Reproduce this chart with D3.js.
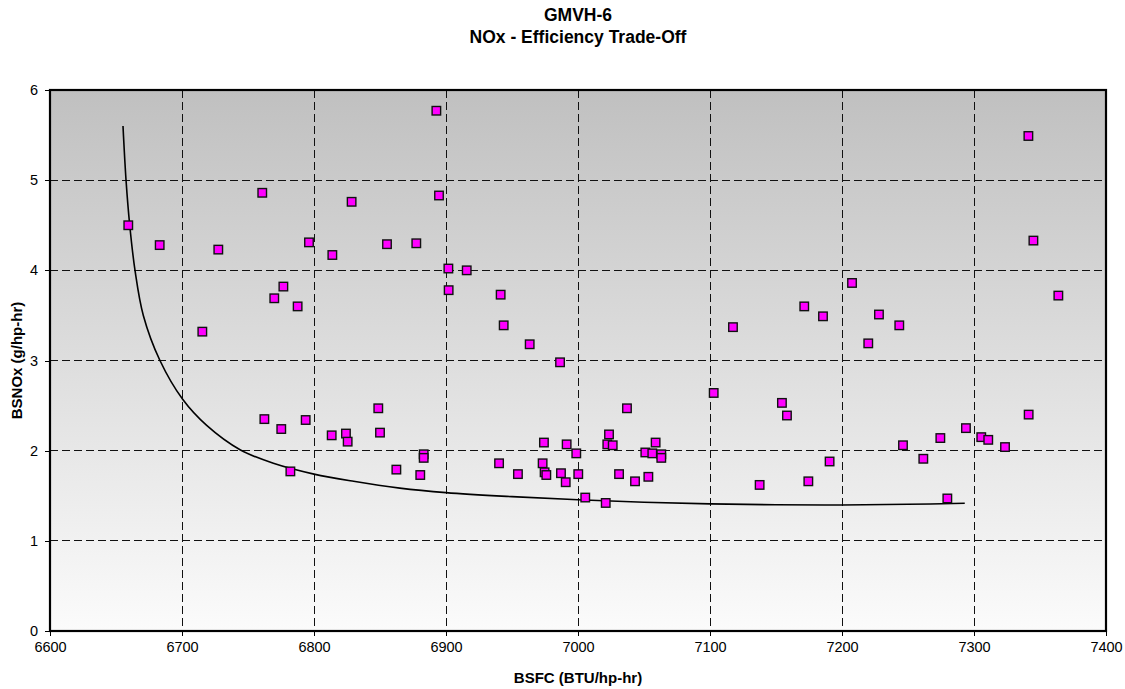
<!DOCTYPE html>
<html lang="en">
<head>
    <meta charset="UTF-8">
    <title>GMVH-6 NOx - Efficiency Trade-Off</title>
    <script src="https://d3js.org/d3.v7.min.js"></script>
    <style>
        body, html {
            margin: 0;
            padding: 0;
            background: #fff;
        }
        text {
            font-family: Arial, "Liberation Sans", sans-serif;
            fill: #000;
        }
        .title {
            font-size: 17.5px;
            font-weight: bold;
        }
        .axis-label {
            font-size: 15px;
            font-weight: bold;
        }
        .grid line {
            stroke: #111;
            stroke-width: 1;
            stroke-dasharray: 8,4;
            shape-rendering: crispEdges;
        }
    </style>
</head>
<body>
    <script>
        // measured points (BSFC, BSNOx)
        const bsfc = [
            6659.3, 6683.1, 6715.4, 6727.5, 6760.8, 6762.4, 6769.9, 6775.2, 6776.8, 6782.1,
            6787.6, 6793.7, 6796.2, 6813.4, 6813.9, 6824.2, 6825.5, 6828.5, 6848.7, 6850.0,
            6855.3, 6862.4, 6877.5, 6880.5, 6883.1, 6883.1, 6892.7, 6894.7, 6901.8, 6902.0,
            6915.7, 6940.2, 6941.4, 6943.7, 6954.5, 6963.4, 6973.2, 6974.2, 6974.7, 6976.0,
            6986.4, 6987.1, 6990.7, 6991.4, 6998.7, 7000.2, 7005.5, 7021.0, 7022.2, 7023.5,
            7026.3, 7031.1, 7037.1, 7043.2, 7051.0, 7053.3, 7056.3, 7058.8, 7063.1, 7063.1,
            7102.8, 7117.4, 7137.6, 7154.5, 7158.3, 7171.4, 7174.5, 7185.6, 7190.6, 7207.6,
            7219.9, 7228.0, 7243.4, 7246.2, 7261.6, 7274.5, 7279.8, 7293.9, 7305.5, 7310.8,
            7323.5, 7341.2, 7341.4, 7345.0, 7363.9
        ];
        const bsnox = [
            4.50, 4.28, 3.32, 4.23, 4.86, 2.35, 3.69, 2.24, 3.82, 1.77,
            3.60, 2.34, 4.31, 2.17, 4.17, 2.19, 2.10, 4.76, 2.47, 2.20,
            4.29, 1.79, 4.30, 1.73, 1.96, 1.92, 5.77, 4.83, 4.02, 3.78,
            4.00, 1.86, 3.73, 3.39, 1.74, 3.18, 1.86, 2.09, 1.76, 1.73,
            2.98, 1.75, 1.65, 2.07, 1.97, 1.74, 1.48, 1.42, 2.07, 2.18,
            2.06, 1.74, 2.47, 1.66, 1.98, 1.71, 1.97, 2.09, 1.96, 1.92,
            2.64, 3.37, 1.62, 2.53, 2.39, 3.60, 1.66, 3.49, 1.88, 3.86,
            3.19, 3.51, 3.39, 2.06, 1.91, 2.14, 1.47, 2.25, 2.15, 2.12,
            2.04, 5.49, 2.40, 4.33, 3.72
        ];

        // trade-off curve
        const trendX = [6655.3, 6657.6, 6660.4, 6664.4, 6670.7, 6683.3, 6700.5, 6718.7, 6744.0, 6769.2,
                        6800.0, 6830.0, 6865.0, 6900.0, 6950.0, 7000.0, 7050.0, 7100.0, 7150.0, 7200.0,
                        7250.0, 7293.0];
        const trendY = [5.60, 5.00, 4.50, 4.00, 3.50, 3.00, 2.57, 2.28, 2.01, 1.86,
                        1.74, 1.66, 1.585, 1.535, 1.49, 1.455, 1.428, 1.41, 1.40, 1.398,
                        1.405, 1.416];

        const xTicks = [6600, 6700, 6800, 6900, 7000, 7100, 7200, 7300, 7400];
        const yTicks = [0, 1, 2, 3, 4, 5, 6];

        const width = 1125, height = 689;
        const plotL = 50, plotR = 1106, plotT = 90, plotB = 631;

        const x = d3.scaleLinear().domain([6600, 7400]).range([plotL, plotR]);
        const y = d3.scaleLinear().domain([0, 6]).range([plotB, plotT]);

        const svg = d3.select("body").append("svg")
            .attr("width", width)
            .attr("height", height);

        const defs = svg.append("defs");
        const grad = defs.append("linearGradient")
            .attr("id", "bg")
            .attr("x1", 0).attr("y1", 0).attr("x2", 0).attr("y2", 1);
        grad.append("stop").attr("offset", "0%").attr("stop-color", "#c0c0c0");
        grad.append("stop").attr("offset", "100%").attr("stop-color", "#fbfbfb");

        svg.append("rect")
            .attr("x", plotL).attr("y", plotT)
            .attr("width", plotR - plotL).attr("height", plotB - plotT)
            .attr("fill", "url(#bg)");

        // gridlines
        const grid = svg.append("g").attr("class", "grid");
        grid.selectAll(".gx")
            .data(xTicks.slice(1, -1))
            .enter().append("line")
            .attr("x1", d => x(d)).attr("x2", d => x(d))
            .attr("y1", plotT).attr("y2", plotB);
        grid.selectAll(".gy")
            .data(yTicks.slice(1, -1))
            .enter().append("line")
            .attr("x1", plotL).attr("x2", plotR)
            .attr("y1", d => y(d)).attr("y2", d => y(d));

        // axes
        const xAxis = d3.axisBottom(x).tickValues(xTicks).tickSize(5).tickPadding(6).tickFormat(d3.format("d"));
        const yAxis = d3.axisLeft(y).tickValues(yTicks).tickSize(5).tickPadding(7).tickFormat(d3.format("d"));

        const gx = svg.append("g").attr("transform", `translate(0,${plotB})`).call(xAxis);
        const gy = svg.append("g").attr("transform", `translate(${plotL},0)`).call(yAxis);
        [gx, gy].forEach(g => {
            g.select(".domain").remove();
            g.selectAll(".tick line").attr("stroke", "#000").attr("stroke-width", 1)
                .style("shape-rendering", "crispEdges");
            g.selectAll(".tick text").attr("fill", "#000")
                .style("font-family", "Arial, 'Liberation Sans', sans-serif").style("font-size", "14.5px");
        });

        // trend curve
        const line = d3.line()
            .x((d, i) => x(trendX[i]))
            .y(d => y(d))
            .curve(d3.curveCatmullRom.alpha(0.5));
        svg.append("path")
            .datum(trendY)
            .attr("d", line)
            .attr("fill", "none")
            .attr("stroke", "#000")
            .attr("stroke-width", 1.6);

        // points
        const pts = bsfc.map((v, i) => ({x: v, y: bsnox[i]}));
        const s = 8.5;
        svg.append("g").selectAll("rect")
            .data(pts)
            .enter().append("rect")
            .attr("x", d => x(d.x) - s / 2)
            .attr("y", d => y(d.y) - s / 2)
            .attr("width", s).attr("height", s)
            .attr("fill", "#ff00ff")
            .attr("stroke", "#111")
            .attr("stroke-width", 1.4);

        // plot frame
        svg.append("rect")
            .attr("x", plotL).attr("y", plotT)
            .attr("width", plotR - plotL).attr("height", plotB - plotT)
            .attr("fill", "none")
            .attr("stroke", "#000")
            .attr("stroke-width", 2.2);

        // titles
        svg.append("text").attr("class", "title")
            .attr("x", 578).attr("y", 20.5).attr("text-anchor", "middle")
            .text("GMVH-6");
        svg.append("text").attr("class", "title")
            .attr("x", 578).attr("y", 42.5).attr("text-anchor", "middle")
            .text("NOx - Efficiency Trade-Off");

        svg.append("text").attr("class", "axis-label")
            .attr("x", (plotL + plotR) / 2).attr("y", 683).attr("text-anchor", "middle")
            .text("BSFC (BTU/hp-hr)");
        svg.append("text").attr("class", "axis-label")
            .attr("transform", `translate(21.5,${(plotT + plotB) / 2}) rotate(-90)`)
            .attr("text-anchor", "middle")
            .text("BSNOx (g/hp-hr)");
    </script>
</body>
</html>
